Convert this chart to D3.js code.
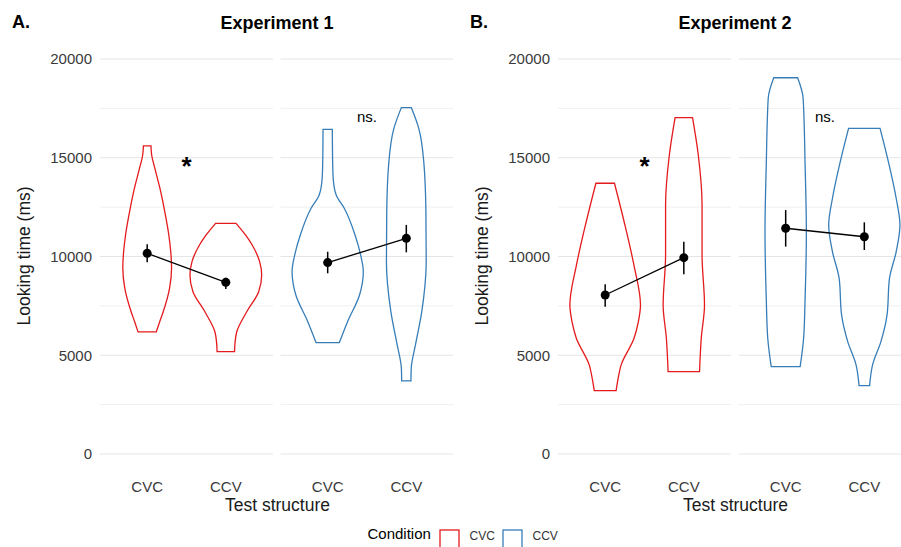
<!DOCTYPE html>
<html>
<head>
<meta charset="utf-8">
<title>Looking time by test structure</title>
<script src="https://d3js.org/d3.v7.min.js"></script>
<style>
  body { margin: 0; background: #fff; }
  svg { display: block; font-family: "Liberation Sans", Arial, Helvetica, sans-serif; }
  .grid-major { stroke: #e5e5e5; stroke-width: 1.1; }
  .grid-minor { stroke: #efefef; stroke-width: 1; }
  .tick-label { font-size: 15px; fill: #3a3a3a; }
  .axis-title { font-size: 17.5px; fill: #1a1a1a; }
  .panel-title { font-size: 18px; font-weight: bold; fill: #000; }
  .violin { fill: none; stroke-width: 1.3; }
</style>
</head>
<body>
<svg id="chart" width="901" height="547"></svg>
<script>
var experiments = ["Experiment 1", "Experiment 2"];
var panelTags = ["A.", "B."];
var conditions = ["CVC", "CCV"];
var structures = ["CVC", "CCV"];
var conditionColors = ["#e41a1c", "#377eb8"];
var yTicks = [0, 5000, 10000, 15000, 20000];
var yMinorTicks = [2500, 7500, 12500, 17500];

// mean looking time (ms) and error bar ends, [condition][test structure]
var exp1Means = [[10160, 8690], [9690, 10920]];
var exp1Low = [[9710, 8350], [9150, 10210]];
var exp1High = [[10620, 8930], [10240, 11600]];
var exp2Means = [[8050, 9940], [11430, 11000]];
var exp2Low = [[7460, 9100], [10500, 10330]];
var exp2High = [[8590, 10750], [12350, 11730]];

// violin outlines, top to bottom: [looking time, half width in category steps]
var exp1Violins = [
  [
    [[15600, .048], [15140, .057], [14470, .097], [13470, .161], [12450, .215], [11090, .275],
     [10230, .30], [9420, .31], [8400, .285], [7190, .203], [6680, .158], [6180, .116]],
    [[11680, .130], [11090, .250], [10580, .335], [9740, .430], [9060, .456], [8220, .418],
     [7200, .266], [6190, .139], [5680, .118], [5180, .111]]
  ],
  [
    [[16440, .059], [14800, .063], [13960, .070], [13110, .108], [12440, .211], [11090, .348],
     [10100, .418], [9230, .453], [8050, .405], [6700, .253], [5640, .148]],
    [[17540, .063], [16490, .158], [14800, .222], [12270, .249], [9740, .253], [7200, .196],
     [5520, .116], [4350, .063], [3700, .059]]
  ]
];
var exp2Violins = [
  [
    [[13710, .118], [11760, .241], [9570, .365], [7540, .449], [6700, .422], [5860, .367],
     [4510, .203], [3830, .165], [3210, .139]],
    [[17030, .111], [15140, .184], [12600, .232], [10080, .232], [7540, .263], [5870, .222],
     [4170, .200]]
  ],
  [
    [[19050, .152], [18010, .222], [14630, .247], [11260, .263], [7880, .247], [5860, .228],
     [4420, .184]],
    [[16490, .200], [14630, .316], [12950, .405], [11600, .453], [10240, .405], [8890, .320],
     [7040, .289], [5690, .211], [4510, .105], [3460, .067]]
  ]
];

// significance labels per condition facet, and their heights
var signifLabels = ["*", "ns."];
var signifValues = [15000, 17000];

var allMeans = [exp1Means, exp2Means];
var allLow = [exp1Low, exp2Low];
var allHigh = [exp1High, exp2High];
var allViolins = [exp1Violins, exp2Violins];

var svg = d3.select("#chart");

var panelOffset = [0, 458];
var facetLeft = [100, 280.5];
var facetWidth = 173;

var y = d3.scaleLinear().domain([0, 20000]).range([454, 59]);

var outline = d3.line()
  .x(function (d) { return d[0]; })
  .y(function (d) { return d[1]; })
  .curve(d3.curveMonotoneY);

experiments.forEach(function (title, e) {
  var g = svg.append("g").attr("transform", "translate(" + panelOffset[e] + ",0)");

  g.append("text").attr("class", "panel-title").attr("x", 12).attr("y", 28).text(panelTags[e]);
  g.append("text").attr("class", "panel-title").attr("x", 277).attr("y", 29)
    .attr("text-anchor", "middle").text(title);

  g.selectAll(".ylab").data(yTicks).enter().append("text")
    .attr("class", "tick-label")
    .attr("x", 92).attr("y", function (d) { return y(d) + 5.3; })
    .attr("text-anchor", "end")
    .text(function (d) { return d; });

  g.append("text").attr("class", "axis-title")
    .attr("transform", "translate(30,256) rotate(-90)")
    .attr("text-anchor", "middle").text("Looking time (ms)");

  g.append("text").attr("class", "axis-title")
    .attr("x", 277.5).attr("y", 510.5)
    .attr("text-anchor", "middle").text("Test structure");

  conditions.forEach(function (cond, c) {
    var x0 = facetLeft[c];
    var x = d3.scalePoint().domain(structures).range([x0, x0 + facetWidth]).padding(0.6);
    var step = x.step();
    var fg = g.append("g");
    var col = conditionColors[c];

    fg.selectAll(".minor").data(yMinorTicks).enter().append("line")
      .attr("class", "grid-minor")
      .attr("x1", x0).attr("x2", x0 + facetWidth)
      .attr("y1", function (d) { return y(d); }).attr("y2", function (d) { return y(d); });
    fg.selectAll(".major").data(yTicks).enter().append("line")
      .attr("class", "grid-major")
      .attr("x1", x0).attr("x2", x0 + facetWidth)
      .attr("y1", function (d) { return y(d); }).attr("y2", function (d) { return y(d); });

    // violins
    structures.forEach(function (s, k) {
      var prof = allViolins[e][c][k];
      var cx = x(s);
      var right = prof.map(function (p) { return [cx + p[1] * step, y(p[0])]; });
      var left = prof.slice().reverse().map(function (p) { return [cx - p[1] * step, y(p[0])]; });
      var d = outline(right) + outline(left).replace(/^M/, "L") + "Z";
      fg.append("path").attr("class", "violin").attr("stroke", col).attr("d", d);
    });

    var pts = structures.map(function (s, k) {
      return { x: x(s), m: allMeans[e][c][k], lo: allLow[e][c][k], hi: allHigh[e][c][k] };
    });

    fg.append("line")
      .attr("x1", pts[0].x).attr("y1", y(pts[0].m))
      .attr("x2", pts[1].x).attr("y2", y(pts[1].m))
      .attr("stroke", "#000").attr("stroke-width", 1.3);

    fg.selectAll(".err").data(pts).enter().append("line")
      .attr("x1", function (d) { return d.x; }).attr("x2", function (d) { return d.x; })
      .attr("y1", function (d) { return y(d.lo); }).attr("y2", function (d) { return y(d.hi); })
      .attr("stroke", "#000").attr("stroke-width", 1.5);

    fg.selectAll(".pt").data(pts).enter().append("circle")
      .attr("cx", function (d) { return d.x; }).attr("cy", function (d) { return y(d.m); })
      .attr("r", 4.5).attr("fill", "#000");

    var midX = (x(structures[0]) + x(structures[1])) / 2;
    if (signifLabels[c] === "*") {
      fg.append("text").attr("x", midX).attr("y", y(signifValues[c]) + 17)
        .attr("text-anchor", "middle").attr("font-size", "26px").attr("font-weight", "bold")
        .text(signifLabels[c]);
    } else {
      fg.append("text").attr("x", midX).attr("y", y(signifValues[c]) + 4)
        .attr("text-anchor", "middle").attr("font-size", "15px")
        .text(signifLabels[c]);
    }

    fg.selectAll(".xlab").data(structures).enter().append("text")
      .attr("class", "tick-label")
      .attr("x", function (d) { return x(d); }).attr("y", 491.5)
      .attr("text-anchor", "middle")
      .text(function (d) { return d; });
  });
});

// legend
var legend = svg.append("g");
legend.append("text").attr("x", 367.5).attr("y", 539).attr("font-size", "15px").text("Condition");
var keyX = [440, 503];
conditions.forEach(function (cond, c) {
  legend.append("rect")
    .attr("x", keyX[c]).attr("y", 530).attr("width", 19).attr("height", 19)
    .attr("fill", "#fff").attr("stroke", conditionColors[c]).attr("stroke-width", 1.3);
  legend.append("text")
    .attr("x", keyX[c] + 29.5).attr("y", 540).attr("font-size", "12px").attr("fill", "#333")
    .text(cond);
});
</script>
</body>
</html>
